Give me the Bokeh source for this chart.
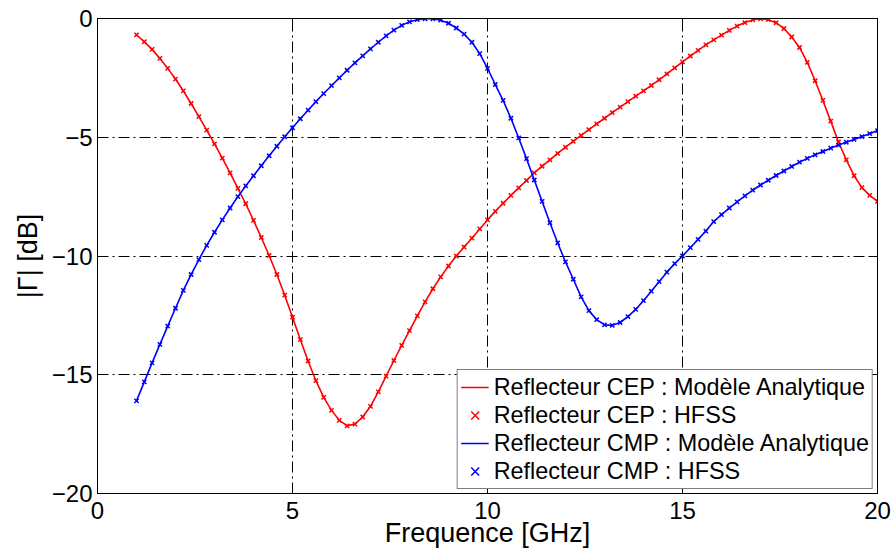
from bokeh.plotting import figure
from bokeh.models import FixedTicker, LinearAxis
from bokeh.embed import file_html
from bokeh.resources import INLINE

# Frequency samples [GHz]
freq = [1.0, 1.2, 1.4, 1.6, 1.8, 2.0, 2.2, 2.4, 2.6, 2.8,
        3.0, 3.2, 3.4, 3.6, 3.8, 4.0, 4.2, 4.4, 4.6, 4.8,
        5.0, 5.2, 5.4, 5.6, 5.8, 6.0, 6.2, 6.4, 6.6, 6.8,
        7.0, 7.2, 7.4, 7.6, 7.8, 8.0, 8.2, 8.4, 8.6, 8.8,
        9.0, 9.2, 9.4, 9.6, 9.8, 10.0, 10.2, 10.4, 10.6, 10.8,
        11.0, 11.2, 11.4, 11.6, 11.8, 12.0, 12.2, 12.4, 12.6, 12.8,
        13.0, 13.2, 13.4, 13.6, 13.8, 14.0, 14.2, 14.4, 14.6, 14.8,
        15.0, 15.2, 15.4, 15.6, 15.8, 16.0, 16.2, 16.4, 16.6, 16.8,
        17.0, 17.2, 17.4, 17.6, 17.8, 18.0, 18.2, 18.4, 18.6, 18.8,
        19.0, 19.2, 19.4, 19.6, 19.8, 20.0]

# Reflecteur CEP |Gamma| [dB]
cep_db = [-0.69, -0.98, -1.30, -1.68, -2.10, -2.55, -3.05, -3.58, -4.13, -4.70,
          -5.28, -5.88, -6.50, -7.15, -7.80, -8.50, -9.22, -9.98, -10.78, -11.65,
          -12.58, -13.52, -14.42, -15.25, -15.95, -16.50, -16.92, -17.15, -17.08, -16.78,
          -16.33, -15.72, -15.06, -14.40, -13.76, -13.14, -12.52, -11.93, -11.38, -10.88,
          -10.42, -10.00, -9.62, -9.25, -8.86, -8.48, -8.12, -7.78, -7.45, -7.13,
          -6.82, -6.50, -6.22, -5.95, -5.68, -5.42, -5.17, -4.92, -4.68, -4.44,
          -4.20, -3.96, -3.73, -3.50, -3.27, -3.05, -2.82, -2.58, -2.33, -2.08,
          -1.83, -1.58, -1.34, -1.11, -0.90, -0.70, -0.50, -0.32, -0.17, -0.06,
          -0.01, -0.05, -0.18, -0.42, -0.78, -1.22, -1.85, -2.62, -3.45, -4.32,
          -5.20, -5.95, -6.62, -7.12, -7.45, -7.70]

# Reflecteur CMP |Gamma| [dB]
cmp_db = [-16.10, -15.30, -14.50, -13.72, -12.95, -12.20, -11.45, -10.78, -10.15, -9.55,
          -9.00, -8.48, -7.98, -7.50, -7.05, -6.62, -6.20, -5.78, -5.38, -4.98,
          -4.60, -4.22, -3.86, -3.50, -3.16, -2.83, -2.50, -2.18, -1.87, -1.57,
          -1.28, -1.00, -0.73, -0.49, -0.29, -0.14, -0.05, -0.01, -0.01, -0.07,
          -0.20, -0.40, -0.66, -1.00, -1.48, -2.10, -2.78, -3.45, -4.20, -5.03,
          -5.90, -6.80, -7.70, -8.60, -9.45, -10.25, -10.98, -11.72, -12.30, -12.68,
          -12.90, -12.92, -12.80, -12.55, -12.25, -11.88, -11.48, -11.08, -10.68, -10.32,
          -10.00, -9.65, -9.30, -8.95, -8.55, -8.26, -7.98, -7.72, -7.47, -7.23,
          -7.01, -6.81, -6.61, -6.42, -6.23, -6.05, -5.89, -5.74, -5.60, -5.46,
          -5.33, -5.21, -5.09, -4.97, -4.85, -4.72]

x_ticks = [0, 5, 10, 15, 20]
x_tick_labels = ["0", "5", "10", "15", "20"]
y_ticks = [-20, -15, -10, -5, 0]
y_tick_labels = ["\u221220", "\u221215", "\u221210", "\u22125", "0"]

legend_labels = ["Reflecteur CEP : Mod\u00e8le Analytique",
                 "Reflecteur CEP : HFSS",
                 "Reflecteur CMP : Mod\u00e8le Analytique",
                 "Reflecteur CMP : HFSS"]

FONT = "Liberation Sans"

p = figure(width=896, height=556, x_range=(0, 20), y_range=(-20, 0),
           output_backend="svg", toolbar_location=None,
           min_border_left=97, min_border_right=19,
           min_border_top=18, min_border_bottom=63)
p.background_fill_color = "white"
p.border_fill_color = "white"
p.outline_line_color = "black"
p.outline_line_width = 1
p.outline_line_alpha = 1

p.line(freq, cep_db, line_color="#ff0000", line_width=1.6, legend_label=legend_labels[0])
p.scatter(freq, cep_db, marker="x", size=6, line_color="#ff0000", line_width=1.5,
          legend_label=legend_labels[1])
p.line(freq, cmp_db, line_color="#0000ff", line_width=1.6, legend_label=legend_labels[2])
p.scatter(freq, cmp_db, marker="x", size=6, line_color="#0000ff", line_width=1.5,
          legend_label=legend_labels[3])

# Axes
p.xaxis.ticker = FixedTicker(ticks=x_ticks)
p.yaxis.ticker = FixedTicker(ticks=y_ticks)
p.xaxis.major_label_overrides = {t: s for t, s in zip(x_ticks, x_tick_labels)}
p.yaxis.major_label_overrides = {t: s for t, s in zip(y_ticks, y_tick_labels)}
for ax in (p.xaxis[0], p.yaxis[0]):
    ax.axis_line_color = "black"
    ax.axis_line_width = 1
    ax.major_tick_in = 8
    ax.major_tick_out = 0
    ax.major_tick_line_color = "black"
    ax.minor_tick_line_color = None
    ax.major_label_text_font = FONT
    ax.major_label_text_font_size = "24px"
    ax.major_label_text_color = "black"
    ax.axis_label_text_font = FONT
    ax.axis_label_text_font_size = "27px"
    ax.axis_label_text_font_style = "normal"
    ax.axis_label_text_color = "black"

p.xaxis.axis_label = "Frequence [GHz]"
p.yaxis.axis_label = "|\u0393| [dB]"
p.xaxis.major_label_standoff = 8
p.yaxis.major_label_standoff = 5
p.xaxis.axis_label_standoff = -4
p.yaxis.axis_label_standoff = 6

# Box ticks on top and right (no labels)
right_ax = LinearAxis(ticker=FixedTicker(ticks=y_ticks), major_label_text_font_size="0px",
                      major_label_text_color=None,
                      major_tick_in=8, major_tick_out=0, minor_tick_line_color=None,
                      major_label_standoff=0, axis_line_color="black")
top_ax = LinearAxis(ticker=FixedTicker(ticks=x_ticks), major_label_text_font_size="0px",
                    major_label_text_color=None,
                    major_tick_in=8, major_tick_out=0, minor_tick_line_color=None,
                    major_label_standoff=0, axis_line_color="black")
p.add_layout(right_ax, "right")
p.add_layout(top_ax, "above")

# Grid
for g in (p.xgrid[0], p.ygrid[0]):
    g.grid_line_color = "black"
    g.grid_line_alpha = 1
    g.grid_line_width = 1
    g.grid_line_dash = "11 4 2 4"

# Legend
lg = p.legend[0]
lg.location = "bottom_right"
lg.margin = 4
lg.padding = 3
lg.spacing = 0
lg.glyph_width = 28
lg.glyph_height = 28
lg.label_height = 28
lg.label_standoff = 5
lg.label_text_font = FONT
lg.label_text_font_size = "23.4px"
lg.label_text_color = "black"
lg.border_line_color = "black"
lg.border_line_width = 1
lg.background_fill_color = "white"
lg.background_fill_alpha = 1

open("out.html", "w").write(file_html(p, INLINE))
